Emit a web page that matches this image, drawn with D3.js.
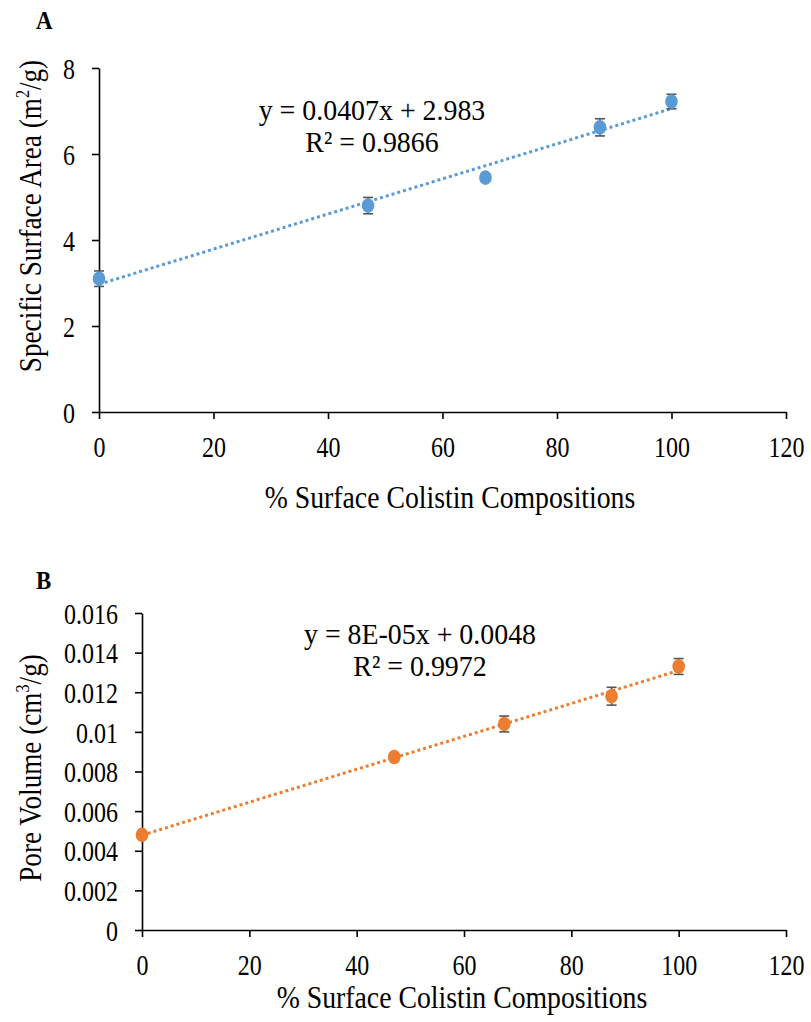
<!DOCTYPE html>
<html>
<head>
<meta charset="utf-8">
<script src="https://cdn.jsdelivr.net/npm/d3@7"></script>
<style>
  body { margin: 0; background: #fff; }
  svg { display: block; font-family: 'Liberation Serif', 'Times New Roman', serif; }
</style>
</head>
<body>
<svg id="chart" width="811" height="1022"></svg>
<script>
// composition (% surface colistin) shared by both panels
const composition = [0, 47, 67.5, 87.5, 100];
const xTicks = [0, 20, 40, 60, 80, 100, 120];

// panel A - specific surface area
const surfaceArea = [3.1, 4.8, 5.45, 6.62, 7.22];
const surfaceAreaErr = [0.18, 0.19, 0.08, 0.2, 0.17];
const yTicksA = [0, 2, 4, 6, 8];
const eqA = ['y = 0.0407x + 2.983', 'R² = 0.9866'];

// panel B - pore volume
const poreVolume = [0.0048, 0.00873, 0.0104, 0.0118, 0.0133];
const poreVolumeErr = [0.0001, 0.0001, 0.0004, 0.00045, 0.0004];
const yTicksB = [0, 0.002, 0.004, 0.006, 0.008, 0.01, 0.012, 0.014, 0.016];
const eqB = ['y = 8E-05x + 0.0048', 'R² = 0.9972'];

const svg = d3.select('#chart');

// least squares line through the points (what the excel trendline shows)
const linearFit = (xs, ys) => {
  const mx = d3.mean(xs);
  const my = d3.mean(ys);
  const sxy = d3.sum(xs, (v, i) => (v - mx) * (ys[i] - my));
  const sxx = d3.sum(xs, v => (v - mx) * (v - mx));
  const slope = sxy / sxx;
  return { slope, intercept: my - slope * mx };
};

const drawPanel = opts => {
  const g = svg.append('g');
  const x = d3.scaleLinear().domain([0, 120]).range([opts.left, 786]);
  const y = d3.scaleLinear().domain(opts.yDomain).range([opts.bottom, opts.top]);

  // panel letter
  g.append('text')
    .attr('transform', `translate(36,${opts.letterY}) scale(0.88,1)`)
    .style('font-size', '26px')
    .style('font-weight', 'bold')
    .text(opts.letter);

  // axes
  const xAxis = g.append('g')
    .attr('transform', `translate(0,${opts.bottom})`)
    .call(d3.axisBottom(x).tickValues(xTicks).tickSize(7).tickSizeOuter(0).tickFormat(d3.format('d')));
  const yAxis = g.append('g')
    .attr('transform', `translate(${opts.left},0)`)
    .call(d3.axisLeft(y).tickValues(opts.yTicks).tickSize(7).tickSizeOuter(0).tickFormat(opts.fmt));

  [xAxis, yAxis].forEach(a => {
    a.select('.domain').attr('stroke', '#000').attr('stroke-width', 1.6);
    a.selectAll('.tick line').attr('stroke', '#000').attr('stroke-width', 1.6);
    a.selectAll('.tick text')
      .attr('fill', '#000')
      .style('font-size', '30px')
      .style('font-family', "'Liberation Serif', serif");
  });
  xAxis.selectAll('.tick text')
    .attr('y', 0).attr('dy', 0)
    .attr('transform', 'translate(0,45) scale(0.8,1)');
  yAxis.selectAll('.tick text')
    .attr('x', 0).attr('dy', '0.34em')
    .attr('transform', 'translate(-24,0) scale(0.8,1)');

  // axis titles
  g.append('text')
    .attr('transform', `translate(${opts.xTitleX},${opts.xTitleY}) scale(0.867,1)`)
    .attr('text-anchor', 'middle')
    .style('font-size', '32px')
    .text('% Surface Colistin Compositions');

  const yTitle = g.append('text')
    .attr('transform', `translate(41,${opts.yTitleY}) rotate(-90) scale(0.85,1)`)
    .attr('text-anchor', 'middle')
    .style('font-size', '32px');
  yTitle.append('tspan').text(opts.yTitle[0]);
  yTitle.append('tspan').attr('dy', -12).style('font-size', '19px').text(opts.yTitle[1]);
  yTitle.append('tspan').attr('dy', 12).text(opts.yTitle[2]);

  // dotted trendline over the data range
  const fit = linearFit(composition, opts.values);
  const fitLine = d3.line().x(d => x(d)).y(d => y(fit.slope * d + fit.intercept));
  g.append('path')
    .datum(d3.extent(composition))
    .attr('d', fitLine)
    .attr('fill', 'none')
    .attr('stroke', opts.color)
    .attr('stroke-width', 3)
    .attr('stroke-dasharray', '3,3');

  // error bars
  const err = g.append('g').attr('stroke', '#555').attr('stroke-width', 1.6);
  composition.forEach((c, i) => {
    const v = opts.values[i];
    const e = opts.errors[i];
    err.append('line').attr('x1', x(c)).attr('x2', x(c)).attr('y1', y(v - e)).attr('y2', y(v + e));
    err.append('line').attr('x1', x(c) - 5).attr('x2', x(c) + 5).attr('y1', y(v - e)).attr('y2', y(v - e));
    err.append('line').attr('x1', x(c) - 5).attr('x2', x(c) + 5).attr('y1', y(v + e)).attr('y2', y(v + e));
  });

  // points
  g.selectAll('.pt')
    .data(composition)
    .enter()
    .append('ellipse')
    .attr('cx', d => x(d))
    .attr('cy', (d, i) => y(opts.values[i]))
    .attr('rx', 6.3)
    .attr('ry', 7.3)
    .attr('fill', opts.color);

  // equation labels
  opts.eq.forEach((t, i) => {
    g.append('text')
      .attr('transform', `translate(${opts.eqX},${opts.eqY + i * 32}) scale(0.93,1)`)
      .attr('text-anchor', 'middle')
      .style('font-size', '30px')
      .text(t);
  });
};

drawPanel({
  letter: 'A',
  letterY: 29,
  left: 99,
  top: 68,
  bottom: 412,
  yDomain: [0, 8],
  yTicks: yTicksA,
  fmt: d3.format('d'),
  values: surfaceArea,
  errors: surfaceAreaErr,
  xTitleX: 450,
  xTitleY: 508,
  yTitleY: 216,
  yTitle: ['Specific Surface Area (m', '2', '/g)'],
  eq: eqA,
  color: '#5B9BD5',
  eqX: 372,
  eqY: 120
});

drawPanel({
  letter: 'B',
  letterY: 589,
  left: 142,
  top: 613,
  bottom: 930,
  yDomain: [0, 0.016],
  yTicks: yTicksB,
  fmt: d3.format('.3~f'),
  values: poreVolume,
  errors: poreVolumeErr,
  xTitleX: 462,
  xTitleY: 1008,
  yTitleY: 768,
  yTitle: ['Pore Volume (cm', '3', '/g)'],
  eq: eqB,
  color: '#ED7D31',
  eqX: 420,
  eqY: 644
});
</script>
</body>
</html>
